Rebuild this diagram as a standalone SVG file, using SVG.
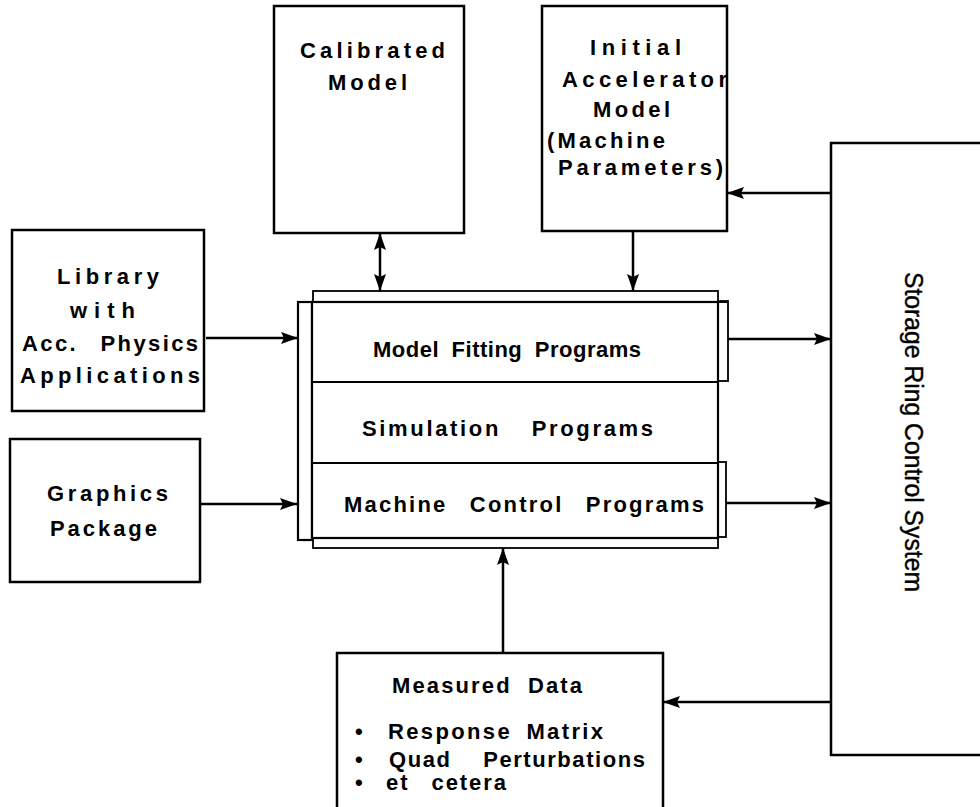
<svg xmlns="http://www.w3.org/2000/svg" width="980" height="807" viewBox="0 0 980 807">
<defs>
<style>
.box{fill:#fff;stroke:#000;stroke-width:2.5}
.thin{fill:#fff;stroke:#000;stroke-width:1.8}
.line{fill:none;stroke:#000;stroke-width:2.2}
.t{font-family:"Liberation Sans",Arial,sans-serif;font-weight:bold;font-size:22px;fill:#000}
.r{font-family:"Liberation Sans",Arial,sans-serif;font-size:25px;fill:#000;stroke:#000;stroke-width:0.4}
.conn{fill:none;stroke:#000;stroke-width:2.5}
</style>
<marker id="ah" markerUnits="userSpaceOnUse" markerWidth="18" markerHeight="14" refX="17" refY="7" orient="auto-start-reverse">
<path d="M0,1 L17,7 L0,13 L3,7 Z" fill="#000"/>
</marker>
</defs>
<rect width="980" height="807" fill="#fff"/>

<g id="calibrated">
<rect class="box" x="274" y="6" width="190" height="227"/>
<text class="t" x="300" y="58" textLength="145" lengthAdjust="spacing">Calibrated</text>
<text class="t" x="328" y="90" textLength="79" lengthAdjust="spacing">Model</text>
</g>

<g id="initial">
<rect class="box" x="542" y="6" width="185" height="225"/>
<text class="t" x="590" y="55" textLength="91" lengthAdjust="spacing">Initial</text>
<text class="t" x="562" y="87" textLength="165" lengthAdjust="spacing">Accelerator</text>
<text class="t" x="593" y="117" textLength="77" lengthAdjust="spacing">Model</text>
<text class="t" x="547" y="148" textLength="118" lengthAdjust="spacing">(Machine</text>
<text class="t" x="558" y="175" textLength="165" lengthAdjust="spacing">Parameters)</text>
</g>

<g id="library">
<rect class="box" x="12" y="230" width="192" height="181"/>
<text class="t" x="57" y="284" textLength="102" lengthAdjust="spacing">Library</text>
<text class="t" x="70" y="318" textLength="65" lengthAdjust="spacing">with</text>
<text class="t" x="22" y="351" textLength="176" lengthAdjust="spacing" word-spacing="14">Acc. Physics</text>
<text class="t" x="20" y="383" textLength="180" lengthAdjust="spacing">Applications</text>
</g>

<g id="graphics">
<rect class="box" x="10" y="439" width="190" height="143"/>
<text class="t" x="47" y="501" textLength="121" lengthAdjust="spacing">Graphics</text>
<text class="t" x="50" y="536" textLength="107" lengthAdjust="spacing">Package</text>
</g>

<g id="programs">
<rect class="thin" x="313" y="291" width="405" height="257"/>
<rect class="line" x="298" y="302" width="14" height="238" style="fill:#fff"/>
<rect class="thin" x="718" y="301" width="10" height="80"/>
<rect class="thin" x="718" y="462" width="8" height="75"/>
<rect class="line" x="312" y="302" width="406" height="236" style="fill:#fff"/>
<line class="line" x1="298" y1="302" x2="728" y2="302"/>
<line class="line" x1="312" y1="382" x2="718" y2="382"/>
<line class="line" x1="312" y1="463" x2="718" y2="463"/>
<text class="t" x="373" y="357" textLength="268" lengthAdjust="spacing" word-spacing="6">Model Fitting Programs</text>
<text class="t" x="362" y="436" textLength="291" lengthAdjust="spacing" word-spacing="22">Simulation Programs</text>
<text class="t" x="344" y="512" textLength="360" lengthAdjust="spacing" word-spacing="14">Machine Control Programs</text>
</g>

<g id="storage">
<rect class="box" x="831" y="143" width="200" height="612"/>
<text class="r" transform="translate(905,432) rotate(90)" text-anchor="middle" textLength="320" lengthAdjust="spacingAndGlyphs">Storage Ring Control System</text>
</g>

<g id="measured">
<rect class="box" x="337" y="653" width="326" height="200"/>
<text class="t" x="392" y="693" textLength="190" lengthAdjust="spacing" word-spacing="8">Measured Data</text>
<text class="t" x="355" y="739">•</text>
<text class="t" x="388" y="739" textLength="215" lengthAdjust="spacing" word-spacing="6">Response Matrix</text>
<text class="t" x="355" y="767">•</text>
<text class="t" x="389" y="767" textLength="256" lengthAdjust="spacing" word-spacing="24">Quad Perturbations</text>
<text class="t" x="355" y="790">•</text>
<text class="t" x="386" y="790" textLength="120" lengthAdjust="spacing" word-spacing="14">et cetera</text>
</g>

<g id="connectors">
<line class="conn" x1="206" y1="338" x2="298" y2="338" marker-end="url(#ah)"/>
<line class="conn" x1="200" y1="504" x2="297" y2="504" marker-end="url(#ah)"/>
<line class="conn" x1="380" y1="233" x2="380" y2="291" marker-start="url(#ah)" marker-end="url(#ah)"/>
<line class="conn" x1="633" y1="231" x2="633" y2="291" marker-end="url(#ah)"/>
<line class="conn" x1="728" y1="339" x2="831" y2="339" marker-end="url(#ah)"/>
<line class="conn" x1="726" y1="503" x2="831" y2="503" marker-end="url(#ah)"/>
<line class="conn" x1="831" y1="193" x2="727" y2="193" marker-end="url(#ah)"/>
<line class="conn" x1="831" y1="702" x2="663" y2="702" marker-end="url(#ah)"/>
<line class="conn" x1="503" y1="653" x2="503" y2="548" marker-end="url(#ah)"/>
</g>
</svg>
